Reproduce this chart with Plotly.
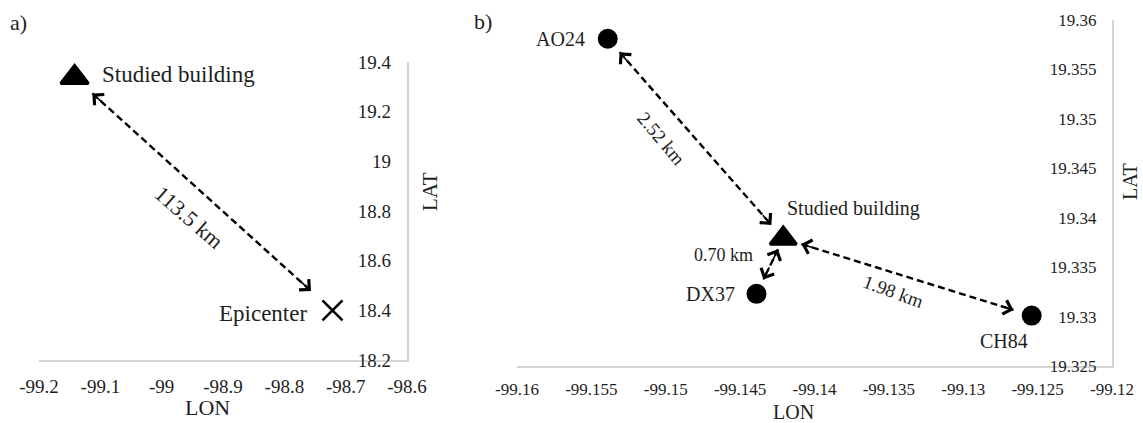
import math
import plotly.graph_objects as go

# ---- data -------------------------------------------------------------
# panel a: building and epicenter (LON, LAT)
a_names = ["Studied building", "Epicenter"]
a_lon = [-99.142, -98.7215]
a_lat = [19.338, 18.400]
a_dist_km = [113.5]

# panel b: building and accelerograph stations (LON, LAT)
b_names = ["Studied building", "AO24", "DX37", "CH84"]
b_lon = [-99.1421, -99.1539, -99.1439, -99.1254]
b_lat = [19.3379, 19.3581, 19.3323, 19.3301]
b_dist_km = [2.52, 0.70, 1.98]

# axis ticks
a_xticks = [-99.2, -99.1, -99.0, -98.9, -98.8, -98.7, -98.6]
a_yticks = [18.2, 18.4, 18.6, 18.8, 19.0, 19.2, 19.4]
b_xticks = [-99.16, -99.155, -99.15, -99.145, -99.14, -99.135, -99.13, -99.125, -99.12]
b_yticks = [19.325, 19.33, 19.335, 19.34, 19.345, 19.35, 19.355, 19.36]

# ---- layout geometry ----------------------------------------------------
W, H = 1143, 423
FONT = "Liberation Serif"
INK = "#1e1e1e"
AXIS_GRAY = "#d4d4d4"

# plot boxes in pixels: (left, right, top, bottom)
box_a = (39, 407, 62, 360)
box_b = (517, 1112, 20, 366)
rng_a = ((-99.2, -98.6), (18.2, 19.4))
rng_b = ((-99.16, -99.12), (19.325, 19.36))


def dom(box):
    l, r, t, b = box
    return [l / W, r / W], [(H - b) / H, (H - t) / H]


def scales(box, rng):
    l, r, t, b = box
    (x0, x1), (y0, y1) = rng
    return (r - l) / (x1 - x0), (b - t) / (y1 - y0)


fig = go.Figure()

# ---- markers ----------------------------------------------------------
fig.add_trace(go.Scatter(x=[a_lon[0]], y=[a_lat[0]], mode="markers",
                         marker=dict(symbol="triangle-up", size=24, color="black",
                                     line=dict(width=3, color="black")),
                         xaxis="x", yaxis="y", hoverinfo="skip"))
fig.add_trace(go.Scatter(x=[a_lon[1]], y=[a_lat[1]], mode="markers",
                         marker=dict(symbol="x-thin", size=20,
                                     line=dict(width=2.6, color="black")),
                         xaxis="x", yaxis="y", hoverinfo="skip"))
fig.add_trace(go.Scatter(x=[b_lon[0]], y=[b_lat[0]], mode="markers",
                         marker=dict(symbol="triangle-up", size=23, color="black",
                                     line=dict(width=3, color="black")),
                         xaxis="x2", yaxis="y2", hoverinfo="skip"))
fig.add_trace(go.Scatter(x=b_lon[1:], y=b_lat[1:], mode="markers",
                         marker=dict(symbol="circle", size=20, color="black"),
                         xaxis="x2", yaxis="y2", hoverinfo="skip"))

annotations = []


def dashed_arrow(p, q, gap_p, gap_q, box, rng, xa, ya):
    """Dashed double-headed arrow between points p and q, trimmed by pixel gaps."""
    sx, sy = scales(box, rng)
    dxp = (q[0] - p[0]) * sx
    dyp = (q[1] - p[1]) * sy
    L = math.hypot(dxp, dyp)
    ux, uy = dxp / L, dyp / L
    s = (p[0] + ux * gap_p / sx, p[1] + uy * gap_p / sy)
    e = (q[0] - ux * gap_q / sx, q[1] - uy * gap_q / sy)
    fig.add_trace(go.Scatter(x=[s[0], e[0]], y=[s[1], e[1]], mode="lines",
                             line=dict(color="black", width=2.4, dash="7px,4px"),
                             xaxis=xa, yaxis=ya, hoverinfo="skip"))
    shaft = 15
    # open heads at both ends, pointing outwards
    for tip, sign in ((e, 1), (s, -1)):
        annotations.append(dict(
            x=tip[0], y=tip[1], xref=xa, yref=ya, text="", showarrow=True,
            ax=-sign * ux * shaft, ay=sign * uy * shaft,
            arrowhead=4, arrowsize=1.75, arrowwidth=1.6, arrowcolor="black",
            standoff=0, startstandoff=0))


# panel a arrow
dashed_arrow((a_lon[0], a_lat[0]), (a_lon[1], a_lat[1]), 24, 29, box_a, rng_a, "x", "y")
# panel b arrows: AO24 -> building, building -> DX37, building -> CH84
dashed_arrow((b_lon[1], b_lat[1]), (b_lon[0], b_lat[0]), 18, 18, box_b, rng_b, "x2", "y2")
dashed_arrow((b_lon[0], b_lat[0]), (b_lon[2], b_lat[2]), 12, 16, box_b, rng_b, "x2", "y2")
dashed_arrow((b_lon[0], b_lat[0]), (b_lon[3], b_lat[3]), 19, 19, box_b, rng_b, "x2", "y2")


def label(text, x, y, xa, ya, size, xanchor="center", xshift=0, yshift=0, angle=0):
    annotations.append(dict(text=text, x=x, y=y, xref=xa, yref=ya, showarrow=False,
                            xanchor=xanchor, yanchor="middle", xshift=xshift,
                            yshift=yshift, textangle=angle,
                            font=dict(family=FONT, size=size, color=INK)))


# point labels
label(a_names[0], a_lon[0], a_lat[0], "x", "y", 23, "left", 25, 3)
label(a_names[1], a_lon[1], a_lat[1], "x", "y", 23, "right", -23, -3)
label(b_names[0], b_lon[0], b_lat[0], "x2", "y2", 20, "left", 2, 30)
label(b_names[1], b_lon[1], b_lat[1], "x2", "y2", 20, "right", -21, 0)
label(b_names[2], b_lon[2], b_lat[2], "x2", "y2", 20, "right", -19, 0)
label(b_names[3], b_lon[3], b_lat[3], "x2", "y2", 20, "center", -28, -25)

# distance labels
label(f"{a_dist_km[0]:.1f} km", -98.955, 18.775, "x", "y", 22, angle=41)
label(f"{b_dist_km[0]:.2f} km", -99.1503, 19.348, "x2", "y2", 19, angle=50)
label(f"{b_dist_km[1]:.2f} km", -99.14615, 19.33626, "x2", "y2", 18)
label(f"{b_dist_km[2]:.2f} km", -99.1347, 19.3325, "x2", "y2", 19, angle=20)


def paper_text(text, px, py, size, angle=0, xanchor="center"):
    annotations.append(dict(text=text, x=px / W, y=1 - py / H, xref="paper", yref="paper",
                            showarrow=False, xanchor=xanchor, yanchor="middle",
                            textangle=angle,
                            font=dict(family=FONT, size=size, color=INK)))


# panel tags and axis titles
paper_text("a)", 8, 23, 22, xanchor="left")
paper_text("b)", 472, 22, 22, xanchor="left")
paper_text("LON", 207, 407, 22)
paper_text("LAT", 430, 192, 21, angle=-90)
paper_text("LON", 793, 412, 20)
paper_text("LAT", 1130, 182, 20, angle=-90)


def xaxis_cfg(box, rng, ticks, size, anchor, tlen):
    xd, _ = dom(box)
    return dict(domain=xd, range=list(rng[0]), tickvals=ticks,
                ticktext=[f"{v:g}" for v in ticks], showgrid=False, zeroline=False,
                showline=True, linecolor=AXIS_GRAY, linewidth=1.6, anchor=anchor,
                ticks="outside", ticklen=tlen, tickcolor="rgba(0,0,0,0)",
                tickfont=dict(family=FONT, size=size, color=INK),
                fixedrange=True, automargin=False)


def yaxis_cfg(box, rng, ticks, size, anchor, tlen):
    _, yd = dom(box)
    return dict(domain=yd, range=list(rng[1]), tickvals=ticks,
                ticktext=[f"{v:g}" for v in ticks], showgrid=False, zeroline=False,
                showline=True, linecolor=AXIS_GRAY, linewidth=1.6, side="right",
                anchor=anchor, ticklabelposition="inside", ticklabeloverflow="allow",
                ticks="inside", ticklen=tlen, tickcolor="rgba(0,0,0,0)",
                tickfont=dict(family=FONT, size=size, color=INK),
                fixedrange=True, automargin=False)


fig.update_layout(
    width=W, height=H, margin=dict(l=0, r=0, t=0, b=0),
    paper_bgcolor="white", plot_bgcolor="white", showlegend=False,
    template="none",
    font=dict(family=FONT, color=INK),
    xaxis=xaxis_cfg(box_a, rng_a, a_xticks, 19, "y", 8),
    yaxis=yaxis_cfg(box_a, rng_a, a_yticks, 19, "x", 17),
    xaxis2=xaxis_cfg(box_b, rng_b, b_xticks, 17, "y2", 7),
    yaxis2=yaxis_cfg(box_b, rng_b, b_yticks, 17, "x2", 16),
    annotations=annotations,
)

fig.write_html("out.html")
